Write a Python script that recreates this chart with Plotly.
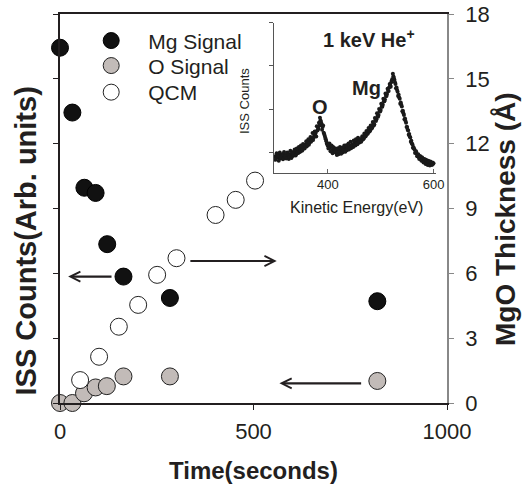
import plotly.graph_objects as go

# ---- main data ----
mg_time = [0, 32, 63, 92, 122, 164, 284, 820]
mg_signal = [5.48, 4.48, 3.32, 3.24, 2.45, 1.95, 1.62, 1.57]

o_time = [0, 32, 62, 92, 121, 164, 284, 820]
o_signal = [0.0, 0.0, 0.15, 0.24, 0.26, 0.41, 0.41, 0.34]

qcm_time = [52, 101, 152, 202, 251, 301, 402, 454, 504]
qcm_thick = [1.06, 2.14, 3.53, 4.54, 5.93, 6.70, 8.70, 9.40, 10.29]

# ---- inset spectrum (1 keV He+), two interleaved scans ----
ke_a = list(range(300, 602, 2))
iss_a = [0.90, 0.86, 0.93, 0.88, 0.95, 0.85, 0.92, 0.89, 0.96, 0.87,
         0.93, 0.90, 0.98, 0.84, 0.95, 0.92, 1.00, 0.91, 0.97, 1.02,
         0.95, 1.04, 0.98, 1.07, 1.02, 1.10, 1.05, 1.12, 1.08, 1.18,
         1.13, 1.22, 1.17, 1.27, 1.24, 1.32, 1.28, 1.38, 1.42, 1.36,
         1.50, 1.55, 1.62, 1.74, 1.66, 1.58, 1.45, 1.38, 1.30, 1.20,
         1.14, 1.18, 1.10, 1.14, 1.05, 1.12, 1.02, 1.08, 0.98, 1.05,
         0.95, 1.03, 0.98, 1.06, 0.99, 1.07, 1.02, 1.10, 1.04, 1.12,
         1.06, 1.14, 1.09, 1.17, 1.12, 1.20, 1.15, 1.23, 1.18, 1.26,
         1.22, 1.30, 1.27, 1.35, 1.32, 1.40, 1.38, 1.46, 1.44, 1.53,
         1.50, 1.58, 1.57, 1.66, 1.64, 1.74, 1.76, 1.84, 1.86, 1.95,
         1.98, 2.06, 2.10, 2.18, 2.22, 2.30, 2.35, 2.42, 2.50, 2.55,
         2.62, 2.70, 2.76, 2.68, 2.58, 2.50, 2.40, 2.33, 2.24, 2.15,
         2.06, 1.96, 1.86, 1.78, 1.68, 1.58, 1.50, 1.42, 1.34, 1.26,
         1.18, 1.12, 1.06, 1.00, 0.96, 0.92, 0.88, 0.90, 0.84, 0.88,
         0.80, 0.84, 0.78, 0.82, 0.76, 0.80, 0.74, 0.78, 0.72, 0.76,
         0.74]

ke_b = list(range(301, 600, 2))
iss_b = [0.82, 0.97, 0.91, 0.80, 0.99, 0.87, 0.94, 0.83, 1.00, 0.90,
         0.85, 0.99, 0.93, 0.88, 1.03, 0.86, 0.98, 0.94, 1.06, 0.92,
         1.08, 0.99, 1.12, 1.00, 1.15, 1.03, 1.19, 1.10, 1.14, 1.25,
         1.16, 1.30, 1.21, 1.35, 1.26, 1.44, 1.33, 1.48, 1.45, 1.60,
         1.52, 1.68, 1.80, 1.70, 1.52, 1.62, 1.42, 1.33, 1.25, 1.17,
         1.08, 1.20, 1.02, 1.15, 0.97, 1.10, 1.00, 1.07, 0.93, 1.09,
         1.00, 1.12, 0.96, 1.10, 1.04, 1.15, 1.01, 1.16, 1.08, 1.20,
         1.10, 1.24, 1.14, 1.18, 1.27, 1.16, 1.30, 1.20, 1.33, 1.25,
         1.30, 1.24, 1.37, 1.30, 1.43, 1.36, 1.49, 1.42, 1.56, 1.48,
         1.62, 1.55, 1.70, 1.62, 1.79, 1.72, 1.90, 1.82, 2.00, 1.94,
         2.12, 2.05, 2.24, 2.18, 2.36, 2.30, 2.47, 2.42, 2.58, 2.52,
         2.66, 2.82, 2.72, 2.62, 2.48, 2.44, 2.30, 2.27, 2.12, 2.10,
         1.95, 1.90, 1.76, 1.72, 1.58, 1.52, 1.40, 1.36, 1.24, 1.20,
         1.10, 1.08, 0.98, 1.02, 0.90, 0.95, 0.84, 0.90, 0.80, 0.86,
         0.76, 0.83, 0.72, 0.80, 0.70, 0.78, 0.69, 0.75, 0.70, 0.72]

x_ticks = [0, 500, 1000]
right_ticks = [0, 3, 6, 9, 12, 15, 18]
inset_ticks = [400, 600]

FONT = "Arial, Liberation Sans, sans-serif"
DARK = "#231f20"

fig = go.Figure()

fig.add_trace(go.Scatter(
    x=mg_time, y=mg_signal, mode="markers", name="Mg Signal", legend="legend",
    marker=dict(size=17, color="#111111", line=dict(color="#000", width=1)),
    xaxis="x", yaxis="y", cliponaxis=False))
fig.add_trace(go.Scatter(
    x=o_time, y=o_signal, mode="markers", name="O Signal", legend="legend2",
    marker=dict(size=17, color="#c2bbb8", line=dict(color="#222", width=1)),
    xaxis="x", yaxis="y", cliponaxis=False))
fig.add_trace(go.Scatter(
    x=qcm_time, y=qcm_thick, mode="markers", name="QCM", legend="legend3",
    marker=dict(size=17, color="white", line=dict(color="#222", width=1)),
    xaxis="x", yaxis="y2", cliponaxis=False))
fig.add_trace(go.Scatter(
    x=ke_a + ke_b, y=iss_a + iss_b, mode="markers", showlegend=False,
    marker=dict(size=4, color="#1a1a1a"),
    xaxis="x2", yaxis="y3"))


def leg(ypix):
    return dict(x=14.2 / 387, y=(403 - ypix + 21.3) / 389, xanchor="left",
                yanchor="top", font=dict(size=21, family=FONT, color=DARK),
                itemwidth=64, bgcolor="rgba(0,0,0,0)")


fig.update_layout(
    width=525, height=487,
    margin=dict(l=60, r=78, t=14, b=84, autoexpand=False),
    paper_bgcolor="white", plot_bgcolor="white",
    font=dict(family=FONT, color=DARK),
    showlegend=True,
    legend=leg(41.7), legend2=leg(66.7), legend3=leg(93.3),
    xaxis=dict(domain=[0, 1], range=[0, 1000], tickvals=x_ticks,
               ticks="outside", ticklen=5, tickcolor=DARK, automargin=False,
               showline=True, linecolor=DARK, linewidth=1.5, mirror=True,
               showgrid=False, zeroline=False,
               tickfont=dict(size=22, color=DARK), ticklabelstandoff=3),
    yaxis=dict(domain=[0, 1], range=[0, 6], dtick=1, showticklabels=False,
               ticks="outside", ticklen=5, tickcolor=DARK, automargin=False,
               showline=True, linecolor=DARK, linewidth=1.5,
               showgrid=False, zeroline=False),
    yaxis2=dict(overlaying="y", side="right", range=[0, 18],
                tickvals=right_ticks, ticks="outside", ticklen=5,
                tickcolor="#888", showline=True, linecolor="#888",
                linewidth=1.5, showgrid=False, zeroline=False, automargin=False,
                tickfont=dict(size=22, color=DARK), ticklabelstandoff=7),
    xaxis2=dict(domain=[0.553, 0.972], anchor="y3", range=[298, 605],
                tickvals=inset_ticks, ticks="inside", ticklen=4,
                tickcolor="#666", showline=True, linecolor="#555",
                linewidth=1, showgrid=False, zeroline=False, automargin=False,
                tickfont=dict(size=13, color=DARK)),
    yaxis3=dict(domain=[0.592, 0.977], anchor="x2", range=[0.52, 4.0],
                tickvals=[1, 2, 3, 4], showticklabels=False,
                ticks="outside", ticklen=4, tickcolor="#555", automargin=False,
                showline=True, linecolor="#555", linewidth=1,
                showgrid=False, zeroline=False),
)

# axis titles
fig.add_annotation(text="<b>Time(seconds)</b>", xref="paper", yref="paper",
                   x=0.5, y=(403 - 470) / 389, xanchor="center", yanchor="middle",
                   showarrow=False, font=dict(size=24, family=FONT, color=DARK))
fig.add_annotation(text="<b>ISS Counts(Arb. units)</b>", xref="paper", yref="paper",
                   x=-35 / 387, y=(403 - 241.5) / 389, textangle=-90,
                   xanchor="center", yanchor="middle", showarrow=False,
                   font=dict(size=29, family=FONT, color=DARK))
fig.add_annotation(text="<b>MgO Thickness (Å)</b>", xref="paper", yref="paper",
                   x=(505 - 60) / 387, y=(403 - 219) / 389, textangle=-90,
                   xanchor="center", yanchor="middle", showarrow=False,
                   font=dict(size=28, family=FONT, color=DARK))

# inset titles and labels
fig.add_annotation(text="Kinetic Energy(eV)", xref="paper", yref="paper",
                   x=(356 - 60) / 387, y=(403 - 207) / 389,
                   xanchor="center", yanchor="middle", showarrow=False,
                   font=dict(size=16, family=FONT, color=DARK))
fig.add_annotation(text="ISS Counts", xref="paper", yref="paper",
                   x=(244 - 60) / 387, y=(403 - 101) / 389, textangle=-90,
                   xanchor="center", yanchor="middle", showarrow=False,
                   font=dict(size=13, family=FONT, color=DARK))
fig.add_annotation(text="<b>1 keV He<sup>+</sup></b>", xref="paper", yref="paper",
                   x=(321 - 60) / 387, y=(403 - 38) / 389,
                   xanchor="left", yanchor="middle", showarrow=False,
                   font=dict(size=20, family=FONT, color=DARK))
fig.add_annotation(text="<b>Mg</b>", xref="paper", yref="paper",
                   x=(366 - 60) / 387, y=(403 - 88) / 389,
                   xanchor="center", yanchor="middle", showarrow=False,
                   font=dict(size=20, family=FONT, color=DARK))
fig.add_annotation(text="<b>O</b>", xref="paper", yref="paper",
                   x=(320 - 60) / 387, y=(403 - 107) / 389,
                   xanchor="center", yanchor="middle", showarrow=False,
                   font=dict(size=20, family=FONT, color=DARK))

# arrows indicating which axis each series belongs to
arrows = [
    dict(x=21, y=5.85, ax=137, ay=5.85),
    dict(x=560, y=6.57, ax=333, ay=6.57),
    dict(x=567, y=0.91, ax=782, ay=0.91),
]
for a in arrows:
    fig.add_annotation(x=a["x"], y=a["y"], ax=a["ax"], ay=a["ay"],
                       xref="x", yref="y2", axref="x", ayref="y2",
                       showarrow=True, arrowhead=5, arrowsize=0.9,
                       arrowwidth=2.2, arrowcolor=DARK, text="")

fig.write_html("out.html")
